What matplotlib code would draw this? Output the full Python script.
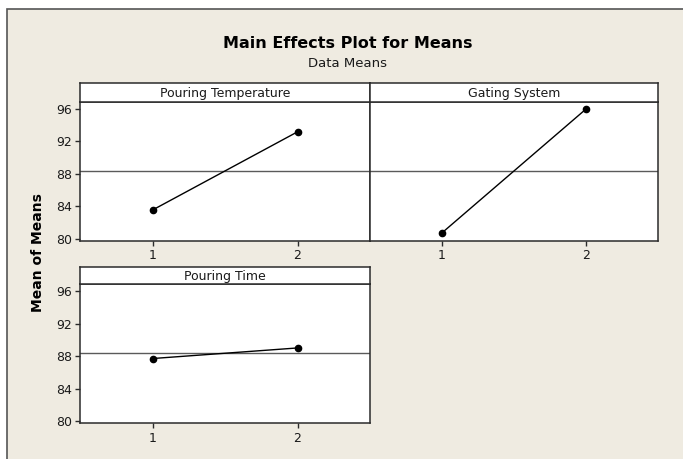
import matplotlib
matplotlib.use("Agg")
import matplotlib.pyplot as plt
from matplotlib.patches import Rectangle
import numpy as np

plt.rcParams['font.family'] = ['DejaVu Sans Condensed', 'DejaVu Sans']

# main effects (means of means)
levels = [1, 2]
factors = ["Pouring Temperature", "Gating System", "Pouring Time"]
pouring_temp = [83.55, 93.15]
gating_system = [80.75, 95.95]
pouring_time = [87.7, 89.0]
y_ticks = [80, 84, 88, 92, 96]

series = [pouring_temp, gating_system, pouring_time]
grand_mean = np.mean(pouring_temp)

W, H = 683, 459
bg = '#efebe1'
edge = '#2b2b2b'

fig = plt.figure(figsize=(W / 100, H / 100), dpi=100, facecolor='white')

# beige graph region with its frame
fig.patches.append(Rectangle((6.7 / W, -0.1), 1.2, 1 - 9.3 / H + 0.1,
                             transform=fig.transFigure, facecolor=bg,
                             edgecolor='#555555', linewidth=1.2, zorder=-5))


def px_box(x0, y0, x1, y1):
    return [x0 / W, 1 - y1 / H, (x1 - x0) / W, (y1 - y0) / H]


# (plot-area box, strip box) in pixels
panels = [
    ((80, 101.7, 370, 241), (80, 82.7, 370, 101.7)),
    ((370, 101.7, 658, 241), (370, 82.7, 658, 101.7)),
    ((80, 284, 370, 423.3), (80, 266.5, 370, 284)),
]

for i, (name, vals) in enumerate(zip(factors, series)):
    box, strip = panels[i]
    ax = fig.add_axes(px_box(*box))
    ax.set_facecolor('white')
    ax.axhline(grand_mean, color='#5a5a5a', lw=1, zorder=1)
    ax.plot(levels, vals, color='black', lw=1, marker='o', ms=4.5, zorder=3)
    ax.set_xlim(0.5, 2.5)
    ax.set_ylim(79.75, 96.85)
    ax.set_xticks(levels)
    ax.set_xticklabels([str(l) for l in levels])
    ax.set_yticks(y_ticks)
    if i == 1:
        ax.tick_params(axis='y', left=False, labelleft=False)
    ax.tick_params(direction='out', length=3.5, width=1, color=edge,
                   labelsize=9, pad=2.5, labelcolor='#1a1a1a')
    for sp in ax.spines.values():
        sp.set_color(edge)
        sp.set_linewidth(1.1)

    sax = fig.add_axes(px_box(*strip))
    sax.set_facecolor('white')
    sax.set_xticks([])
    sax.set_yticks([])
    for sp in sax.spines.values():
        sp.set_color(edge)
        sp.set_linewidth(1.1)
    sax.text(0.5, 0.45, name, ha='center', va='center', fontsize=9,
             color='#1a1a1a', transform=sax.transAxes)

fig.text(347.5 / W, 1 - 48.3 / H, "Main Effects Plot for Means",
         ha='center', va='baseline', fontsize=11.5, fontweight='bold')
fig.text(348 / W, 1 - 66.7 / H, "Data Means", ha='center', va='baseline',
         fontsize=9.5, color='#1a1a1a')
fig.text(38.3 / W, 1 - 253 / H, "Mean of Means", rotation=90, ha='center',
         va='center', fontsize=10, fontweight='bold')

fig.savefig("out.png", dpi=100, facecolor=fig.get_facecolor())
